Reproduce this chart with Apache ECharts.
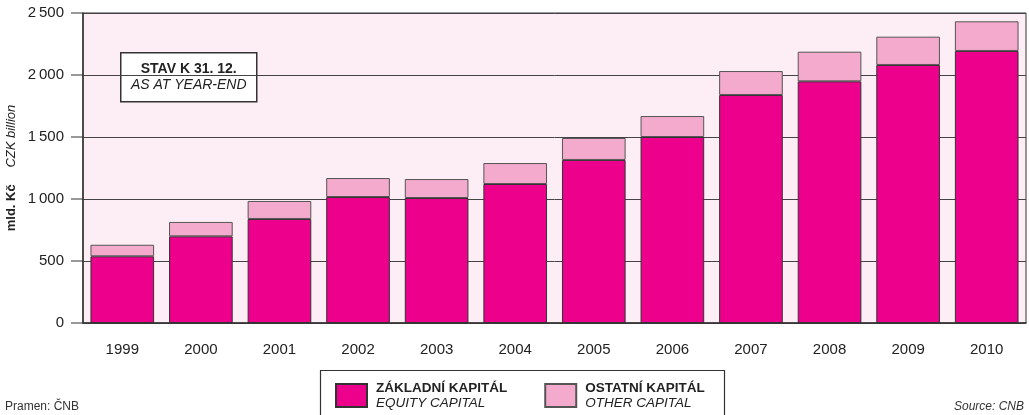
<!DOCTYPE html>
<html><head><meta charset="utf-8">
<script src="https://cdn.jsdelivr.net/npm/echarts@6/dist/echarts.min.js"></script>
<style>html,body{margin:0;padding:0;background:#fff}#c{width:1029px;height:415px}</style>
</head><body><div id="c"></div>
<script>
const years = ['1999','2000','2001','2002','2003','2004','2005','2006','2007','2008','2009','2010'];
const equityCapital = [538, 699, 839, 1016, 1008, 1121, 1315, 1500, 1839, 1949, 2081, 2194];
const otherCapital = [93, 116, 145, 153, 153, 169, 177, 169, 193, 239, 228, 239];
const yTicks = [0, 500, 1000, 1500, 2000, 2500];

const F = 'Liberation Sans, Arial, sans-serif';
const chart = echarts.init(document.getElementById('c'));
chart.setOption({
  animation: false,
  textStyle: {fontFamily: F},
  grid: {left: 83, right: 3, top: 13, bottom: 92, show: true, backgroundColor: '#FDEDF4', borderColor: '#333', borderWidth: 1, containLabel: false, outerBoundsMode: 'none'},
  xAxis: {
    type: 'category', data: years,
    axisLine: {lineStyle: {color: '#333', width: 1.5}},
    axisTick: {length: 12, lineStyle: {color: '#333'}},
    axisLabel: {color: '#222', fontSize: 15, margin: 19, fontFamily: F}
  },
  yAxis: {
    type: 'value', min: yTicks[0], max: yTicks[yTicks.length-1], interval: 500,
    name: '{b|mld. Kč}     {i|CZK billion}', nameLocation: 'middle', nameRotate: 90, nameGap: 65, nameMoveOverlap: false,
    nameTextStyle: {rich: {b: {fontWeight: 'bold', fontSize: 13, color: '#222', fontFamily: F}, i: {fontStyle: 'italic', fontSize: 13, color: '#222', fontFamily: F}}},
    axisLine: {show: true, lineStyle: {color: '#333', width: 1.5}},
    axisTick: {show: false},
    splitLine: {lineStyle: {color: '#444', width: 1}},
    axisLabel: {color: '#222', fontSize: 15, margin: 0, fontFamily: F,
      formatter: v => '{v|' + String(v).replace(/\B(?=(\d{3})+(?!\d))/g, '\u2009') + '}{g|}{t|}',
      rich: {
        v: {fontSize: 15, color: '#222', fontFamily: F, verticalAlign: 'middle'},
        g: {width: 7, height: 1, verticalAlign: 'middle'},
        t: {width: 12, height: 1, backgroundColor: '#333', verticalAlign: 'middle'}
      }}
  },
  legend: {
    left: 335, top: 381, padding: 0, itemWidth: 31, itemHeight: 23, itemGap: 37, icon: 'rect',
    data: ['equity', 'other'],
    formatter: n => n === 'equity' ? '{b|ZÁKLADNÍ KAPITÁL}\n{i|EQUITY CAPITAL}' : '{b|OSTATNÍ KAPITÁL}\n{i|OTHER CAPITAL}',
    textStyle: {rich: {b: {fontWeight: 'bold', fontSize: 13.5, color: '#222', lineHeight: 15, fontFamily: F}, i: {fontStyle: 'italic', fontSize: 13.5, color: '#222', lineHeight: 15, fontFamily: F}}, padding: [0, 0, 0, 4]}
  },
  graphic: [
    {type: 'rect', left: 318, top: 368, shape: {width: 404, height: 60}, style: {fill: 'none', stroke: '#333', lineWidth: 1.2}, z: 10},
    {type: 'group', left: 120, top: 52, z: 20, children: [
      {type: 'rect', shape: {x: 0, y: 0, width: 136, height: 49}, style: {fill: '#fff', stroke: '#333', lineWidth: 1.5}},
      {type: 'text', x: 68, y: 9, style: {text: 'STAV K 31. 12.', font: 'bold 14px Liberation Sans, Arial', fill: '#222', align: 'center'}},
      {type: 'text', x: 68, y: 25, style: {text: 'AS AT YEAR-END', font: 'italic 14px Liberation Sans, Arial', fill: '#222', align: 'center'}}
    ]},
    {type: 'text', left: 5, top: 401, style: {text: 'Pramen: ČNB', font: '12px Liberation Sans, Arial', fill: '#333'}},
    {type: 'text', right: 5, top: 401, style: {text: 'Source: CNB', font: 'italic 12px Liberation Sans, Arial', fill: '#333'}}
  ],
  series: [
    {name: 'equity', type: 'bar', stack: 's', data: equityCapital, barCategoryGap: '19%',
      itemStyle: {color: '#EC008C', borderColor: '#333', borderWidth: 1}},
    {name: 'other', type: 'bar', stack: 's', data: otherCapital,
      itemStyle: {color: '#F4AACC', borderColor: '#555', borderWidth: 1}}
  ]
});
</script></body></html>
